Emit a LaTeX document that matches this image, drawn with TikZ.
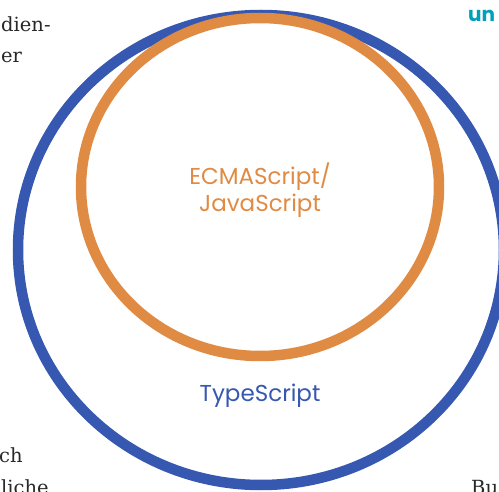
\documentclass[tikz,border=0pt]{standalone}
\usepackage{fontspec}
\setmainfont{DejaVu Serif}
\newfontfamily\labelfont{Poppins}
\usetikzlibrary{shapes.geometric}
\definecolor{tsblue}{RGB}{55,88,176}
\definecolor{jsorange}{RGB}{224,139,68}
\definecolor{brandteal}{RGB}{0,160,184}
\definecolor{bodytext}{RGB}{40,40,40}
\tikzset{
  ring/.style={draw, line width=10.5pt, fill=none},
  setlabel/.style={font=\labelfont\fontsize{23}{27}\selectfont, align=center, inner sep=0pt},
  pagetext/.style={font=\fontsize{19.5}{23}\selectfont, text=bodytext, anchor=base west, inner sep=0pt}
}
\begin{document}
\begin{tikzpicture}[x=1pt,y=-1pt]
  \useasboundingbox (0,0) rectangle (499,492);
  \fill[white] (0,0) rectangle (499,492);
  \clip (0,0) rectangle (499,492);

  % Set rings: TypeScript contains ECMAScript/JavaScript
  \node[ring, tsblue, ellipse, minimum width=486pt, minimum height=470pt, inner sep=0pt] (ts) at (261,250) {};
  \node[ring, jsorange, ellipse, minimum width=358pt, minimum height=338pt, inner sep=0pt] (js) at (260,187) {};

  \node[setlabel, text=jsorange] (jslabel) at (260,190) {ECMAScript/\\JavaScript};
  \node[setlabel, text=tsblue] (tslabel) at (260,396) {TypeScript};

  % Surrounding page text, cut by the frame
  \node[pagetext] (t1) at (1,32) {dien-};
  \node[pagetext] (t2) at (1,63) {er};
  \node[pagetext] (t3) at (-1,463) {ch};
  \node[pagetext] (t4) at (1,494) {liche};
  \node[pagetext] (t5) at (471,494) {Bu};
  \node[font=\labelfont\bfseries\fontsize{20}{20}\selectfont, text=brandteal, anchor=base west, inner sep=0pt] (logo) at (468,22) {un};
\end{tikzpicture}
\end{document}
